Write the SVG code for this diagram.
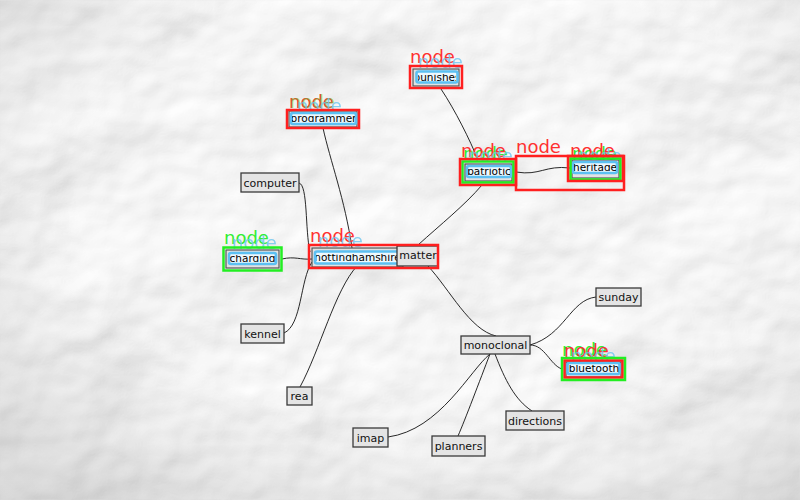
<svg xmlns="http://www.w3.org/2000/svg" width="800" height="500" viewBox="0 0 800 500">
<defs>
<filter id="paper" x="0" y="0" width="100%" height="100%">
<feTurbulence type="fractalNoise" baseFrequency="0.007 0.009" numOctaves="4" seed="3" result="n"/>
<feDiffuseLighting in="n" surfaceScale="9" lighting-color="#ffffff" diffuseConstant="1.05" result="l"><feDistantLight azimuth="235" elevation="60"/></feDiffuseLighting>
</filter>
<radialGradient id="vig" cx="0.55" cy="0.4" r="0.75">
<stop offset="0.6" stop-color="#000" stop-opacity="0"/>
<stop offset="1" stop-color="#000" stop-opacity="0.12"/>
</radialGradient>
<clipPath id="cPun"><rect x="418" y="74" width="38" height="7"/></clipPath>
<clipPath id="cPro"><rect x="292" y="115" width="63" height="7"/></clipPath>
<clipPath id="cPat"><rect x="468" y="168" width="42" height="7"/></clipPath>
<clipPath id="cHer"><rect x="574" y="164" width="42" height="7"/></clipPath>
<clipPath id="cCha"><rect x="230" y="255" width="45" height="7"/></clipPath>
<clipPath id="cNot"><rect x="316" y="254" width="83" height="7"/></clipPath>
<clipPath id="cBlu"><rect x="569" y="365" width="50" height="7"/></clipPath>
<style>
text{font-family:"DejaVu Sans",sans-serif}
.box{fill:#e4e4e4;stroke:#3a3a3a;stroke-width:1.3}
.lbl{font-size:11px;fill:#111;text-anchor:middle}
.in{fill:#e2e2e2;stroke:#555;stroke-width:1.2}
.blue{fill:#eef8fd;stroke:#5cc0f2;stroke-width:2.6}
.ct{font-size:10.5px;fill:#000;text-anchor:middle}
.red{fill:none;stroke:#ff1f1f;stroke-width:2.5}
.grn{fill:none;stroke:#22ee22;stroke-width:2.5}
.nr{font-size:18px;fill:#ff3030}
.ng{font-size:18px;fill:#33ee33}
.nb{font-size:18px;fill:#6cc6f0;opacity:0.8}
.edge{fill:none;stroke:#111;stroke-width:0.9}
</style>
</defs>
<rect width="800" height="500" fill="#f2f2f2"/>
<rect width="800" height="500" filter="url(#paper)" opacity="0.85"/>
<rect width="800" height="500" fill="url(#vig)"/>
<g id="connectors">
<path class="edge" d="M323,128 C330,160 345,200 352,248"/>
<path class="edge" d="M299,183 C308,185 305,230 310,252"/>
<path class="edge" d="M284,333 C302,325 300,280 312,262"/>
<path class="edge" d="M282,259 C295,256 300,260 312,259"/>
<path class="edge" d="M300,387 C320,350 335,290 357,266"/>
<path class="edge" d="M441,89 C455,110 470,140 478,160"/>
<path class="edge" d="M516,172 C540,176 545,165 570,168"/>
<path class="edge" d="M418,245 C440,225 465,205 482,185"/>
<path class="edge" d="M428,266 C450,290 470,330 496,336"/>
<path class="edge" d="M530,345 C565,335 570,300 596,297"/>
<path class="edge" d="M530,345 C545,345 550,365 562,369"/>
<path class="edge" d="M490,354 C470,370 440,430 388,437"/>
<path class="edge" d="M490,354 C480,380 465,420 458,436"/>
<path class="edge" d="M495,354 C505,380 515,400 532,411"/>
</g>
<g id="computer"><rect class="box" x="241" y="173" width="58" height="19"/><text class="lbl" x="270" y="186.5">computer</text></g>
<g id="kennel"><rect class="box" x="241" y="324" width="43" height="19"/><text class="lbl" x="262.5" y="337.5">kennel</text></g>
<g id="rea"><rect class="box" x="287" y="387" width="25" height="18"/><text class="lbl" x="299.5" y="400">rea</text></g>
<g id="imap"><rect class="box" x="353" y="428" width="35" height="19"/><text class="lbl" x="370.5" y="441.5">imap</text></g>
<g id="planners"><rect class="box" x="432" y="436" width="53" height="20"/><text class="lbl" x="458.5" y="449.5">planners</text></g>
<g id="directions"><rect class="box" x="506" y="411" width="58" height="19"/><text class="lbl" x="535" y="424.5">directions</text></g>
<g id="monoclonal"><rect class="box" x="461" y="336" width="69" height="18"/><text class="lbl" x="495.5" y="349">monoclonal</text></g>
<g id="sunday"><rect class="box" x="596" y="288" width="45" height="18"/><text class="lbl" x="618.5" y="301">sunday</text></g>
<g id="punishes">
<text class="nr" x="410" y="63">node</text>
<text class="nb" x="418" y="68">node</text>
<rect class="in" x="413" y="69" width="46" height="17"/>
<rect class="blue" x="416.5" y="71.5" width="41" height="11" rx="2"/>
<text class="ct" x="437" y="80.5" clip-path="url(#cPun)">punishes</text>
<rect class="red" x="410" y="66" width="52" height="22"/>
</g>
<g id="programmer">
<text class="nr" x="289" y="108">node</text>
<text class="ng" x="290" y="108" opacity="0.45">node</text>
<text class="nb" x="297" y="112">node</text>
<rect class="in" x="289" y="111" width="68" height="16"/>
<rect class="blue" x="291" y="113" width="65" height="11" rx="2"/>
<text class="ct" x="323.5" y="121.5" clip-path="url(#cPro)">programmer</text>
<rect class="red" x="287" y="110" width="72" height="18"/>
</g>
<g id="patriotic">
<text class="ng" x="463" y="160">node</text>
<text class="nr" x="461" y="157">node</text>
<text class="nb" x="468" y="162">node</text>
<rect class="in" x="465" y="164" width="47" height="17"/>
<rect class="blue" x="467" y="166" width="44" height="11" rx="2"/>
<text class="ct" x="489" y="174.5" clip-path="url(#cPat)">patriotic</text>
<rect class="grn" x="462.5" y="161.5" width="51" height="21"/>
<rect class="red" x="460" y="159" width="56" height="26"/>
</g>
<g id="heritage">
<text class="nr" x="516" y="153">node</text>
<text class="ng" x="572" y="160">node</text>
<text class="nr" x="570" y="157">node</text>
<text class="nb" x="577" y="162">node</text>
<rect class="in" x="572" y="160" width="47" height="18"/>
<rect class="blue" x="573" y="162" width="44" height="11" rx="2"/>
<text class="ct" x="595" y="170.5" clip-path="url(#cHer)">heritage</text>
<rect class="grn" x="570.5" y="158.5" width="50" height="21"/>
<rect class="red" x="568" y="156" width="55" height="25"/>
<rect class="red" x="516" y="156" width="108" height="34"/>
</g>
<g id="charging">
<text class="ng" x="224" y="244">node</text>
<text class="nb" x="232" y="249">node</text>
<rect class="in" x="226" y="250" width="53" height="18"/>
<rect class="blue" x="229" y="253" width="47" height="11" rx="2"/>
<text class="ct" x="252.5" y="261.5" clip-path="url(#cCha)">charging</text>
<rect class="grn" x="223.5" y="247.5" width="58" height="23"/>
</g>
<g id="nottinghamshire">
<text class="nr" x="310" y="242">node</text>
<text class="nb" x="318" y="247">node</text>
<rect class="in" x="312" y="248" width="91" height="19"/>
<rect class="blue" x="315" y="251.5" width="85" height="12" rx="2"/>
<text class="ct" x="357.5" y="260.5" clip-path="url(#cNot)">nottinghamshire</text>
</g>
<g id="matter"><rect class="box" x="397" y="246" width="41" height="20"/><text class="lbl" x="418" y="259">matter</text></g>
<rect class="red" x="309" y="245" width="129" height="23"/>
<g id="bluetooth">
<text class="ng" x="562" y="356">node</text>
<text class="nr" x="564" y="357">node</text>
<text class="nb" x="571" y="362">node</text>
<rect class="in" x="566" y="362" width="55" height="15"/>
<rect class="blue" x="567.5" y="363" width="52" height="11" rx="2"/>
<text class="ct" x="594" y="371.5" clip-path="url(#cBlu)">bluetooth</text>
<rect class="red" x="564.5" y="360.5" width="58" height="17"/>
<rect class="grn" x="562" y="358" width="63" height="22"/>
</g>
</svg>
